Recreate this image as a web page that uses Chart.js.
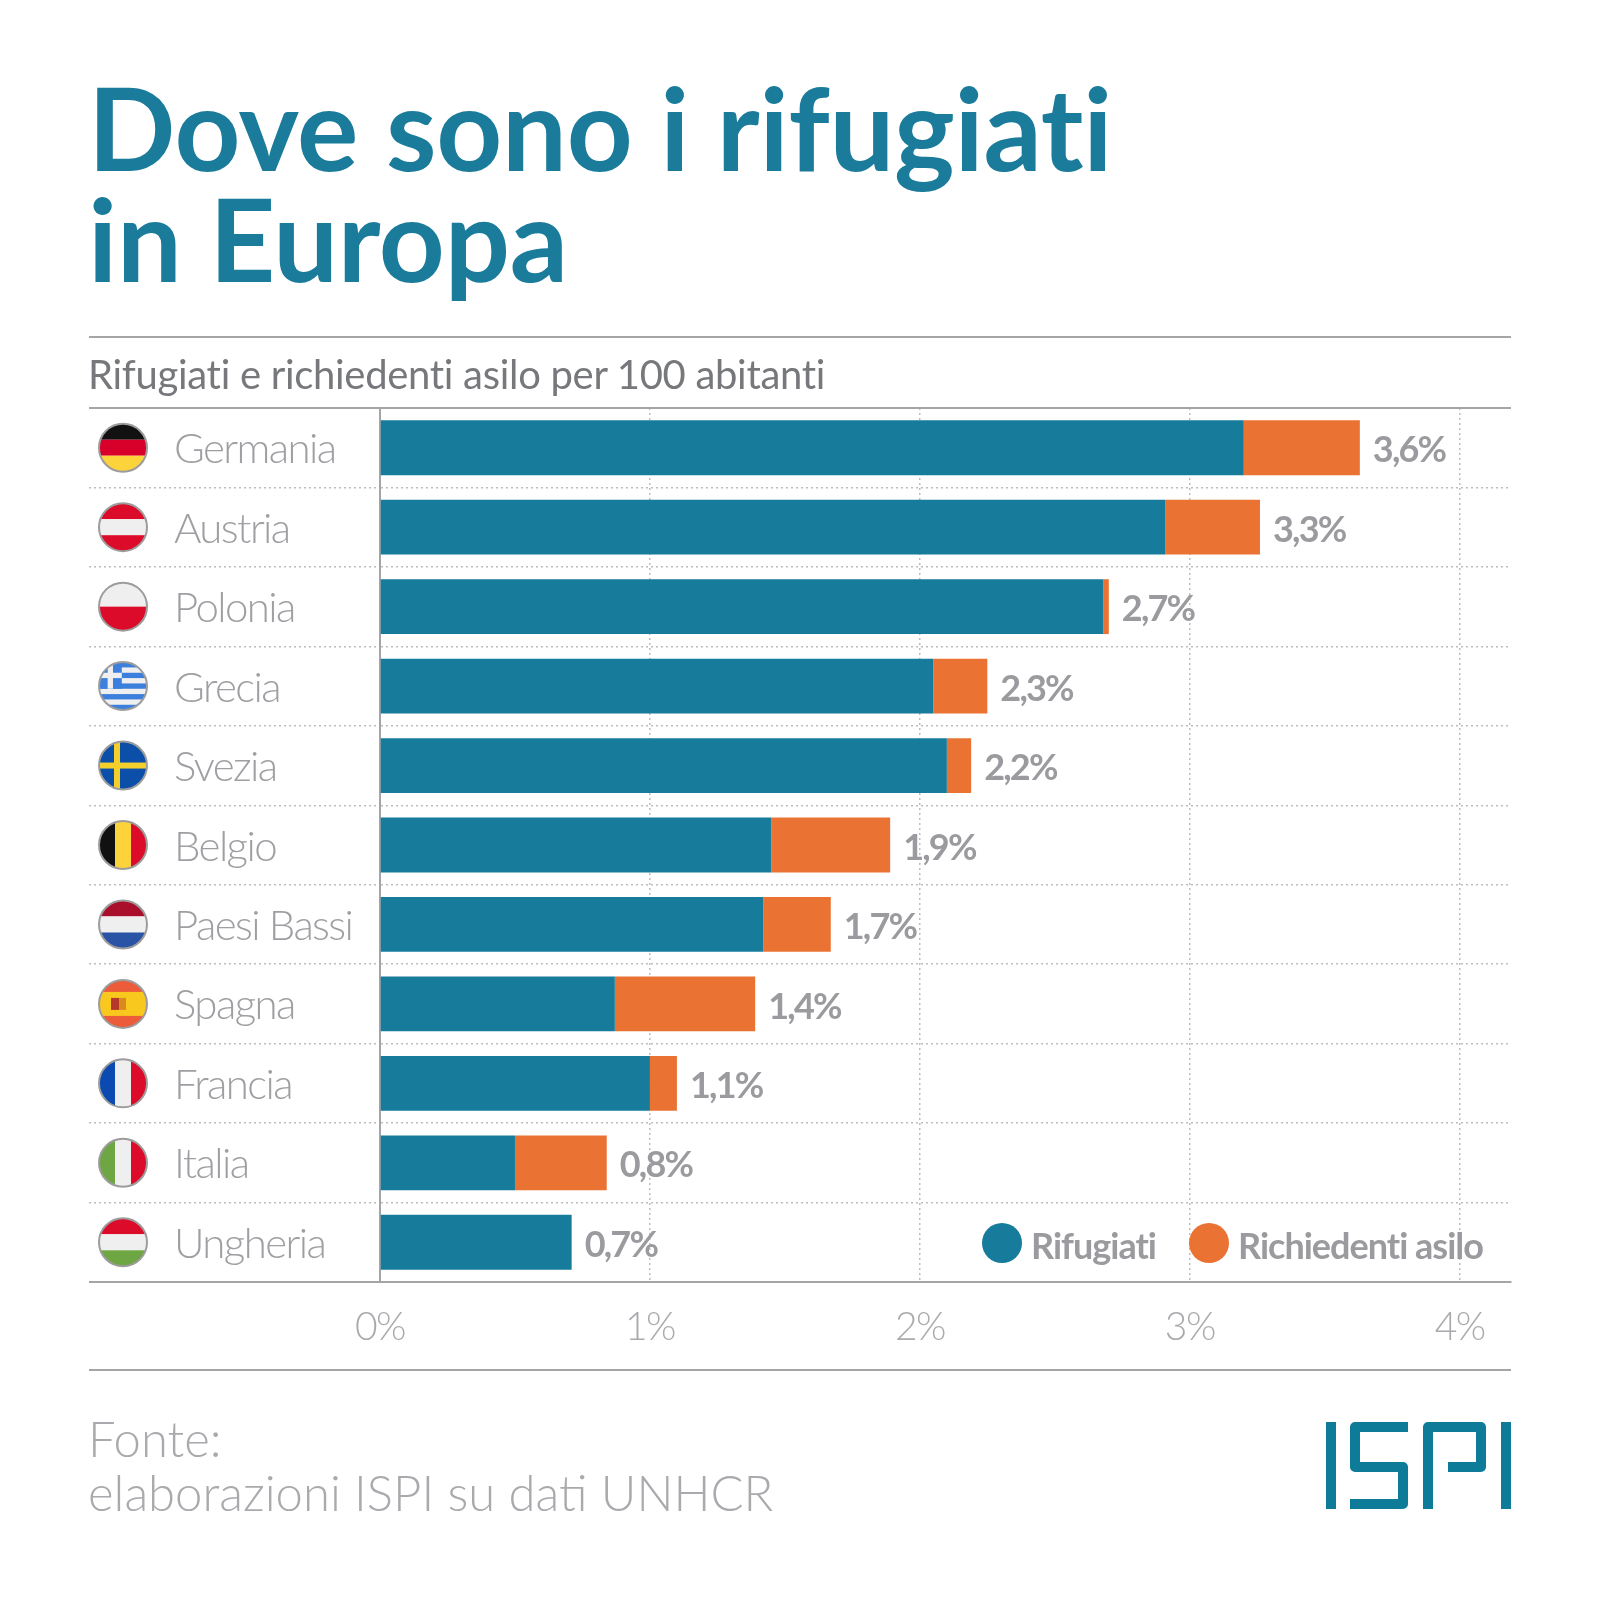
<!DOCTYPE html>
<html lang="it">
<head>
<meta charset="utf-8">
<title>Dove sono i rifugiati in Europa</title>
<script src="https://cdn.jsdelivr.net/npm/chart.js@4"></script>
<style>
  html, body { margin: 0; background: #fff; }
  #page { position: relative; width: 1600px; height: 1600px; overflow: hidden; }
  #chart { position: absolute; left: 0; top: 0; }
  .abs { position: absolute; white-space: nowrap; }
  .title { left: 88px; font: 700 115px/1 Lato, sans-serif; color: #1a7b9b; letter-spacing: -0.25px; }
  .rule { position: absolute; left: 89px; width: 1422px; height: 2px; background: #a5a5a8; }
  .sub { left: 88px; top: 350px; font: 400 40px/1.2 Lato, sans-serif; color: #77787b; letter-spacing: -0.3px; }
  .source { left: 88px; font: 300 49px/1 Lato, sans-serif; color: #a9aaad; }
  .legend-dot { position: absolute; width: 40px; height: 40px; border-radius: 50%; }
  .legend-text { font: 700 36px/1 Lato, sans-serif; color: #9b9b9f; letter-spacing: -1px; }
  #logo { position: absolute; left: 1323px; top: 1418px; }
</style>
</head>
<body>
<div id="page">
  <canvas id="chart" width="1600" height="1600"></canvas>
  <div class="abs title" style="top:69px">Dove sono i rifugiati</div>
  <div class="abs title" style="top:180px">in Europa</div>
  <div class="rule" style="top:336px"></div>
  <div class="abs sub">Rifugiati e richiedenti asilo per 100 abitanti</div>
  <div class="rule" style="top:407px"></div>
  <div class="rule" style="top:1281px"></div>
  <div class="rule" style="top:1369px"></div>
  <div class="abs source" style="top:1414px">Fonte:</div>
  <div class="abs source" style="top:1468px">elaborazioni ISPI su dati UNHCR</div>
  <div id="legend"></div>
  <svg id="logo" width="195" height="96" viewBox="0 0 195 96" role="img" aria-label="ISPI">
    <title>ISPI</title>
    <g fill="none" stroke="#0e7c98" stroke-width="10" stroke-linejoin="round">
      <path d="M8 4V91"/>
      <path d="M85 9H32V49H80V86H27"/>
      <path d="M105 91V9H158V49H125"/>
      <path d="M183 4V91"/>
    </g>
  </svg>
</div>
<script>
const countries = ["Germania", "Austria", "Polonia", "Grecia", "Svezia", "Belgio", "Paesi Bassi", "Spagna", "Francia", "Italia", "Ungheria"];
const rifugiati = [3.2, 2.91, 2.68, 2.05, 2.1, 1.45, 1.42, 0.87, 1.0, 0.5, 0.71];
const richiedenti = [0.43, 0.35, 0.02, 0.2, 0.09, 0.44, 0.25, 0.52, 0.1, 0.34, 0];
const totalLabels = ["3,6%", "3,3%", "2,7%", "2,3%", "2,2%", "1,9%", "1,7%", "1,4%", "1,1%", "0,8%", "0,7%"];
const xTicks = ["0%", "1%", "2%", "3%", "4%"];

const BLUE = "#177b9c";
const ORANGE = "#ea7333";
const GREY_LINE = "#a5a5a8";
const DOT_LINE = "#bdbdc0";

const RED = "#dd0b2a", WHITE = "#efefef";
const flagStripes = {
  Germania: ["h", "#111", "#d8002a", "#fdd33c"],
  Austria: ["h", RED, WHITE, RED],
  Polonia: ["h", WHITE, RED],
  Belgio: ["v", "#111", "#fdd33c", RED],
  "Paesi Bassi": ["h", "#a90f2b", WHITE, "#2a53a6"],
  Francia: ["v", "#0b4ab0", WHITE, RED],
  Italia: ["v", "#6fa644", WHITE, RED],
  Ungheria: ["h", RED, WHITE, "#6fa644"],
};

function drawFlag(ctx, name, cx, cy, r) {
  ctx.save();
  ctx.beginPath();
  ctx.arc(cx, cy, r, 0, Math.PI * 2);
  ctx.clip();
  const x0 = cx - r, y0 = cy - r, d = r * 2;
  const rect = (c, x, y, w, h) => { ctx.fillStyle = c; ctx.fillRect(x, y, w, h); };
  const s = flagStripes[name];
  if (s) {
    const n = s.length - 1;
    for (let i = 0; i < n; i++) {
      if (s[0] === "h") rect(s[i + 1], x0, y0 + d * i / n, d, d / n);
      else rect(s[i + 1], x0 + d * i / n, y0, d / n, d);
    }
  } else if (name === "Svezia") {
    rect("#0b4fa8", x0, y0, d, d);
    rect("#f5cf2c", x0, cy - 3, d, 6);
    rect("#f5cf2c", cx - 9, y0, 6, d);
  } else if (name === "Grecia") {
    rect(WHITE, x0, y0, d, d);
    for (let i = 0; i < 9; i += 2) rect("#3d7fdc", x0, y0 + d * i / 9, d, d / 9);
    rect("#3d7fdc", x0, y0, r * 0.95, d * 5 / 9);
    rect(WHITE, x0, y0 + d * 2 / 9, r * 0.95, d / 9);
    rect(WHITE, x0 + r * 0.36, y0, d / 9, d * 5 / 9);
  } else if (name === "Spagna") {
    rect("#ec5b3a", x0, y0, d, d);
    rect("#f9c81e", x0, y0 + d * 0.25, d, d * 0.5);
    rect("#b5382a", cx - 12, cy - 6, 8, 12);
    rect("#d98a1c", cx - 4, cy - 6, 7, 12);
  }
  ctx.restore();
  ctx.beginPath();
  ctx.arc(cx, cy, r, 0, Math.PI * 2);
  ctx.lineWidth = 2;
  ctx.strokeStyle = "#9c9c9c";
  ctx.stroke();
}

const flagsAndLabels = {
  id: "flagsAndLabels",
  beforeDraw(chart) {
    chart.ctx.letterSpacing = "-1.6px";
  },
  afterDatasetsDraw(chart) {
    const { ctx, scales: { x, y } } = chart;
    countries.forEach((name, i) => {
      drawFlag(ctx, name, 123, y.getPixelForTick(i), 24);
    });
    ctx.save();
    ctx.font = "700 36px Lato, sans-serif";
    ctx.fillStyle = "#9b9b9f";
    ctx.letterSpacing = "-1.8px";
    ctx.textBaseline = "middle";
    totalLabels.forEach((label, i) => {
      ctx.fillText(label, x.getPixelForValue(rifugiati[i] + richiedenti[i]) + 13, y.getPixelForTick(i) + 3);
    });
    ctx.restore();
  },
};

// only the inner row boundaries get a dotted line, top and bottom are solid rules
const rowLine = c => (c.type === "tick" && c.index > 0 ? DOT_LINE : "transparent");

const chart = new Chart(document.getElementById("chart"), {
  type: "bar",
  data: {
    labels: countries,
    datasets: [
      { label: "Rifugiati", data: rifugiati, backgroundColor: BLUE },
      { label: "Richiedenti asilo", data: richiedenti, backgroundColor: ORANGE },
    ],
  },
  options: {
    indexAxis: "y",
    responsive: false,
    animation: false,
    layout: { padding: { left: 174, top: 408, right: 89, bottom: 238 } },
    datasets: { bar: { categoryPercentage: 1, barPercentage: 0.69 } },
    plugins: { legend: { display: false }, tooltip: { enabled: false } },
    scales: {
      x: {
        stacked: true,
        min: 0,
        max: 4.19,
        afterFit: s => { s.height = 80; },
        border: { color: GREY_LINE, width: 2, dash: [2, 3] },
        grid: { color: DOT_LINE, lineWidth: 1.5, drawTicks: false },
        ticks: {
          stepSize: 1,
          includeBounds: false,
          maxRotation: 0,
          padding: 22,
          color: "#a9aaad",
          font: { family: "Lato, sans-serif", size: 39, weight: 300 },
          callback: (v, i) => xTicks[i],
        },
      },
      y: {
        stacked: true,
        afterFit: s => { s.width = 206; },
        border: { color: GREY_LINE, width: 2, dash: [2, 3] },
        grid: {
          color: rowLine,
          tickColor: rowLine,
          lineWidth: 1.5,
          tickWidth: 1.5,
          tickLength: 291,
          tickBorderDash: [2, 3],
        },
        ticks: {
          crossAlign: "far",
          labelOffset: 2,
          color: "#9f9fa3",
          font: { family: "Lato, sans-serif", size: 42, weight: 300 },
        },
      },
    },
  },
  plugins: [flagsAndLabels],
});

// legend is plain DOM, sits inside the plot at the lower right
const legendItems = [
  { label: chart.data.datasets[0].label, color: BLUE, dot: 982, text: 1031 },
  { label: chart.data.datasets[1].label, color: ORANGE, dot: 1189, text: 1238 },
];
const legendEl = document.getElementById("legend");
for (const item of legendItems) {
  legendEl.insertAdjacentHTML("beforeend",
    `<span class="legend-dot" style="left:${item.dot}px;top:1223px;background:${item.color}"></span>` +
    `<span class="abs legend-text" style="left:${item.text}px;top:1227px">${item.label}</span>`);
}
</script>
</body>
</html>
